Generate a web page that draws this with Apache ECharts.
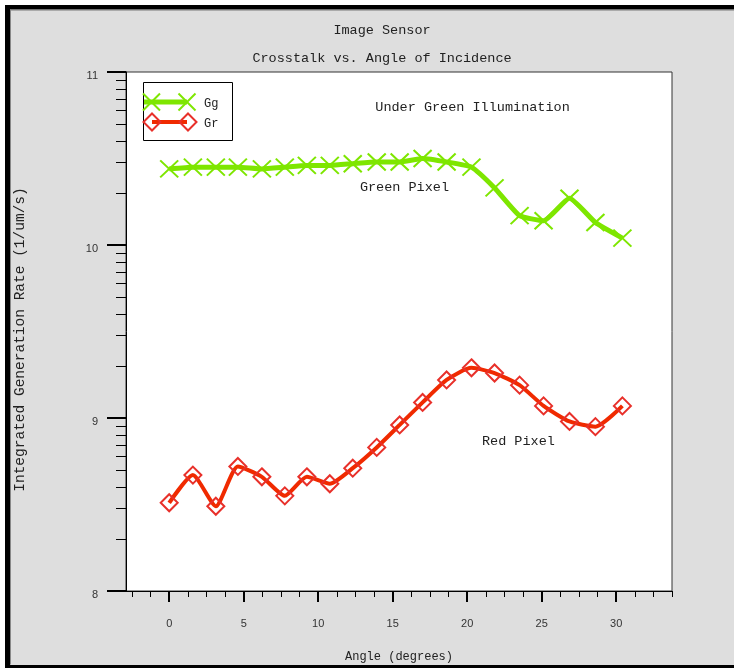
<!DOCTYPE html>
<html><head><meta charset="utf-8">
<script src="https://cdn.jsdelivr.net/npm/echarts@6/dist/echarts.min.js"></script>
<style>html,body{margin:0;padding:0;background:#fff}#c{width:734px;height:668px}</style>
</head><body><div id="c"></div>
<script>
// ---- data ----
const angles = [0, 1.59, 3.13, 4.61, 6.22, 7.76, 9.24, 10.78, 12.32, 13.93, 15.47, 17.01, 18.62, 20.29, 21.84, 23.52, 25.13, 26.87, 28.61, 30.42];
const ggValues = [10.44, 10.45, 10.45, 10.45, 10.44, 10.45, 10.46, 10.46, 10.47, 10.48, 10.48, 10.50, 10.48, 10.45, 10.33, 10.17, 10.14, 10.27, 10.13, 10.04];
const grValues = [8.51, 8.67, 8.49, 8.72, 8.66, 8.55, 8.66, 8.62, 8.71, 8.83, 8.96, 9.09, 9.22, 9.29, 9.26, 9.19, 9.07, 8.98, 8.95, 9.07];
const seriesNames = ['Gg', 'Gr'];
const xMajorTicks = [0, 5, 10, 15, 20, 25, 30];
const xMinorTicks = [-2.5, -1.25, 1.25, 2.5, 3.75, 6.25, 7.5, 8.75, 11.25, 12.5, 13.75, 16.25, 17.5, 18.75, 21.25, 22.5, 23.75, 26.25, 27.5, 28.75, 31.25, 32.5, 33.75];
const yMajorTicks = [8, 9, 10, 11];
const yMinorSteps = [2, 3, 4, 5, 6, 7, 8, 9];
const titleText = 'Image Sensor';
const subtitleText = 'Crosstalk vs. Angle of Incidence';
const xName = 'Angle (degrees)';
const yName = 'Integrated Generation Rate (1/um/s)';
const notes = [
  { text: 'Under Green Illumination', x: 20.36, y: 10.793 },
  { text: 'Green Pixel', x: 15.79, y: 10.331 },
  { text: 'Red Pixel', x: 23.44, y: 8.864 }
];

// ---- styling ----
const GREEN = '#7ee600';
const RED_LINE = '#f02a00';
const RED_MARK = '#e8302a';
const MONO = '"Liberation Mono", "DejaVu Sans Mono", monospace';
const SANS = '"Liberation Sans", "DejaVu Sans", sans-serif';
const X_MIN = -2.9, X_MAX = 33.75, Y_MIN = 8, Y_MAX = 11;

const yMinorTicks = [];
[8, 9, 10].forEach(n => yMinorSteps.forEach(k => yMinorTicks.push(n + Math.log10(k))));

const chart = echarts.init(document.getElementById('c'), null, { renderer: 'canvas' });

const xSymbol = 'path://M0,0L20,18M20,0L0,18';

function xCross(cx, cy) {
  return [
    { type: 'line', shape: { x1: cx - 8.5, y1: cy - 8.5, x2: cx + 8.5, y2: cy + 8.5 }, style: { stroke: GREEN, lineWidth: 2 } },
    { type: 'line', shape: { x1: cx + 8.5, y1: cy - 8.5, x2: cx - 8.5, y2: cy + 8.5 }, style: { stroke: GREEN, lineWidth: 2 } }
  ];
}

const option = {
  animation: false,
  backgroundColor: '#dedede',
  title: [
    { text: titleText, left: 377, top: 18, textAlign: 'center',
      textStyle: { fontFamily: MONO, fontSize: 13.5, fontWeight: 'normal', color: '#222' } },
    { text: subtitleText, left: 377, top: 46, textAlign: 'center',
      textStyle: { fontFamily: MONO, fontSize: 13.5, fontWeight: 'normal', color: '#222' } }
  ],
  grid: { left: 126, top: 72, width: 546, height: 519.7, show: true, backgroundColor: '#ffffff', borderColor: '#333', borderWidth: 1, containLabel: false },
  xAxis: [
    { type: 'value', min: X_MIN, max: X_MAX, position: 'bottom',
      axisLine: { show: true, onZero: false, lineStyle: { color: '#000', width: 1 } },
      axisTick: { show: true, customValues: xMajorTicks, length: 11, lineStyle: { color: '#000', width: 2 } },
      axisLabel: { show: true, customValues: xMajorTicks, margin: 27, fontFamily: SANS, fontSize: 11, color: '#333' },
      splitLine: { show: false },
      name: xName, nameLocation: 'middle', nameGap: 60,
      nameTextStyle: { fontFamily: MONO, fontSize: 12, color: '#222' } },
    { type: 'value', min: X_MIN, max: X_MAX, position: 'bottom',
      axisLine: { show: false, onZero: false },
      axisTick: { show: true, customValues: xMinorTicks, length: 6, lineStyle: { color: '#000', width: 1 } },
      axisLabel: { show: false },
      splitLine: { show: false } }
  ],
  yAxis: [
    { type: 'value', min: Y_MIN, max: Y_MAX, interval: 1, position: 'left',
      axisLine: { show: true, onZero: false, lineStyle: { color: '#000', width: 1 } },
      axisTick: { show: true, customValues: yMajorTicks, length: 19, lineStyle: { color: '#000', width: 2 } },
      axisLabel: { show: true, customValues: yMajorTicks, margin: 28,
        formatter: '{a|{value}}',
        rich: { a: { fontFamily: SANS, fontSize: 11, color: '#333', padding: [8, 0, 0, 0] } } },
      splitLine: { show: false },
      name: yName, nameLocation: 'middle', nameGap: 98, nameRotate: 90,
      nameTextStyle: { fontFamily: MONO, fontSize: 14.5, color: '#222', padding: [0, 16, 0, 0] } },
    { type: 'value', min: Y_MIN, max: Y_MAX, position: 'left',
      axisLine: { show: false, onZero: false },
      axisTick: { show: true, customValues: yMinorTicks, length: 10, lineStyle: { color: '#000', width: 1 } },
      axisLabel: { show: false },
      splitLine: { show: false } }
  ],
  series: [
    { type: 'line', name: seriesNames[0], xAxisIndex: 0, yAxisIndex: 0,
      data: angles.map((a, i) => [a, ggValues[i]]),
      smooth: 0.15, symbol: xSymbol, symbolSize: [18, 17],
      lineStyle: { color: GREEN, width: 5 },
      itemStyle: { color: 'rgba(0,0,0,0)', borderColor: GREEN, borderWidth: 2 },
      markPoint: {
        symbol: 'circle', symbolSize: 1, itemStyle: { color: 'rgba(0,0,0,0)' },
        label: { show: true, position: 'inside', fontFamily: MONO, fontSize: 13.5, color: '#222' },
        data: notes.map(n => ({ coord: [n.x, n.y], label: { formatter: n.text } }))
      } },
    { type: 'line', name: seriesNames[1], xAxisIndex: 0, yAxisIndex: 0,
      data: angles.map((a, i) => [a, grValues[i]]),
      smooth: 0.2, symbol: 'diamond', symbolSize: [17, 17],
      lineStyle: { color: RED_LINE, width: 4 },
      itemStyle: { color: 'rgba(0,0,0,0)', borderColor: RED_MARK, borderWidth: 2 } }
  ],
  graphic: [
    // outer frame
    { type: 'rect', shape: { x: 0, y: 0, width: 734, height: 5 }, style: { fill: '#fff' }, silent: true },
    { type: 'rect', shape: { x: 0, y: 0, width: 5, height: 668 }, style: { fill: '#fff' }, silent: true },
    { type: 'rect', shape: { x: 5, y: 5, width: 729, height: 4.5 }, style: { fill: '#000' }, silent: true },
    { type: 'rect', shape: { x: 5, y: 5, width: 5, height: 663 }, style: { fill: '#000' }, silent: true },
    { type: 'rect', shape: { x: 5, y: 665, width: 729, height: 3 }, style: { fill: '#000' }, silent: true },
    { type: 'rect', shape: { x: 10, y: 9.5, width: 724, height: 1 }, style: { fill: '#777' }, silent: true },
    { type: 'rect', shape: { x: 10, y: 9.5, width: 1, height: 655 }, style: { fill: '#888' }, silent: true },
    // legend box
    { type: 'group', z: 100, children: [
      { type: 'rect', shape: { x: 143.5, y: 82.5, width: 89, height: 58 }, style: { fill: '#fff', stroke: '#000', lineWidth: 1 } },
      { type: 'line', shape: { x1: 144, y1: 102, x2: 187, y2: 102 }, style: { stroke: GREEN, lineWidth: 5 } }
    ].concat(xCross(151.5, 102), xCross(187, 102), [
      { type: 'text', style: { x: 204, y: 104, text: seriesNames[0], fontFamily: MONO, fontSize: 12, fill: '#222', verticalAlign: 'middle' } },
      { type: 'line', shape: { x1: 152, y1: 122, x2: 187, y2: 122 }, style: { stroke: RED_LINE, lineWidth: 4 } },
      { type: 'polygon', shape: { points: [[152, 113.5], [160.5, 122], [152, 130.5], [143.5, 122]] }, style: { stroke: RED_MARK, lineWidth: 2, fill: null } },
      { type: 'polygon', shape: { points: [[188, 113.5], [196.5, 122], [188, 130.5], [179.5, 122]] }, style: { stroke: RED_MARK, lineWidth: 2, fill: null } },
      { type: 'text', style: { x: 204, y: 124, text: seriesNames[1], fontFamily: MONO, fontSize: 12, fill: '#222', verticalAlign: 'middle' } }
    ]) }
  ]
};
chart.setOption(option);
</script>
</body></html>
